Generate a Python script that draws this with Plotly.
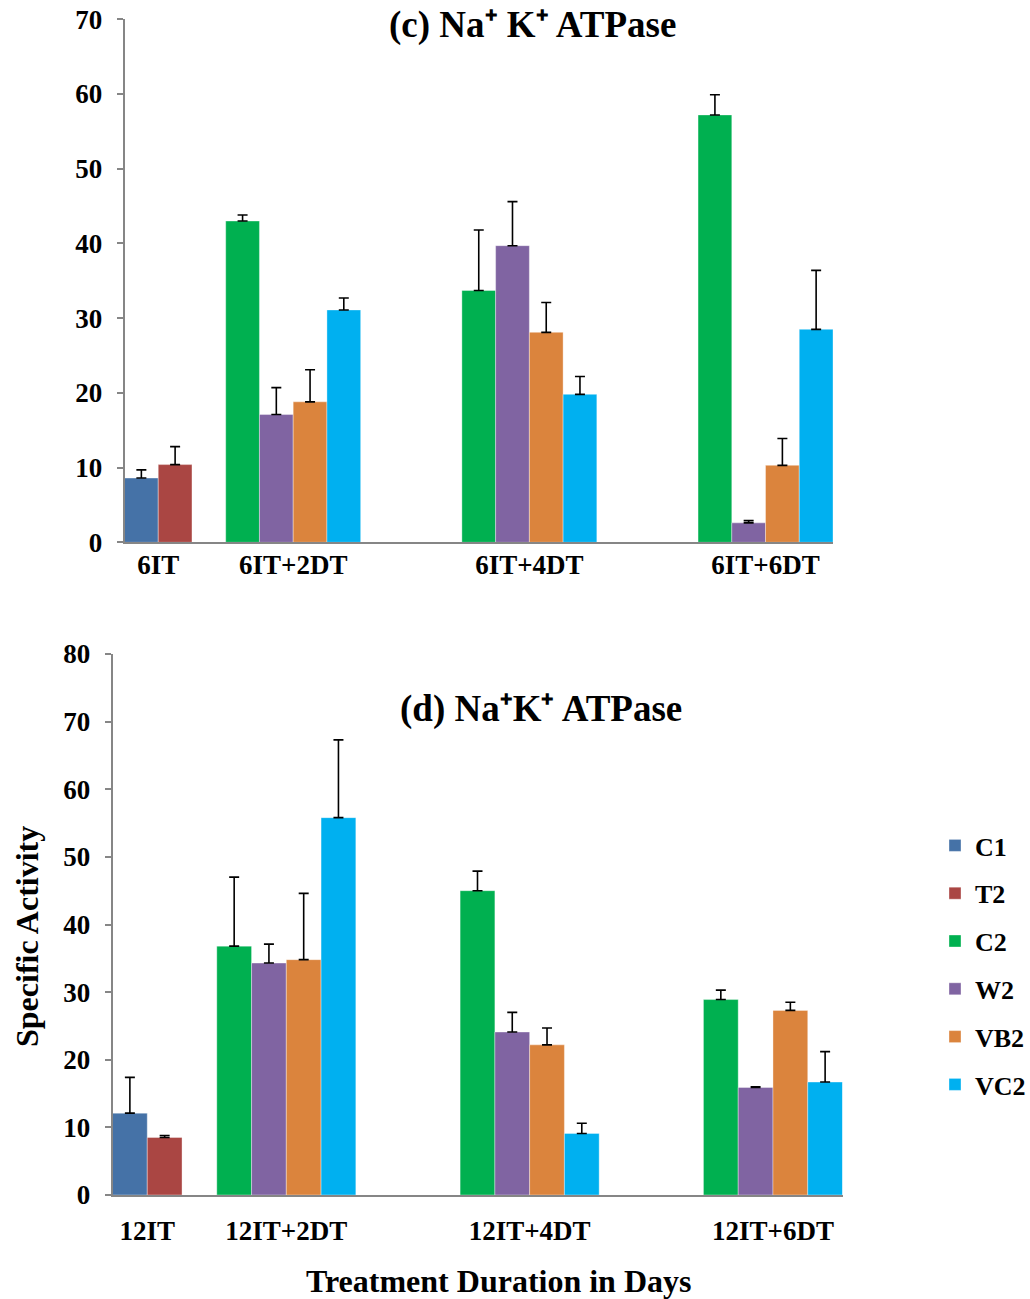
import plotly.graph_objects as go

# Series and their fill colours
SERIES = ["C1", "T2", "C2", "W2", "VB2", "VC2"]
COLORS = ["#4572A7", "#AA4643", "#00B050", "#8064A2", "#DB843D", "#00B0F0"]

# Panel (c): 6 days of exposure followed by 2/4/6 days of treatment
CATS_C = ["6IT", "6IT+2DT", "6IT+4DT", "6IT+6DT"]
C_C1 = [8.6, None, None, None]
C_T2 = [10.4, None, None, None]
C_C2 = [None, 43.0, 33.7, 57.2]
C_W2 = [None, 17.1, 39.7, 2.6]
C_VB2 = [None, 18.8, 28.1, 10.3]
C_VC2 = [None, 31.1, 19.8, 28.5]
C_C1_ERR = [1.1, None, None, None]
C_T2_ERR = [2.4, None, None, None]
C_C2_ERR = [None, 0.8, 8.1, 2.7]
C_W2_ERR = [None, 3.6, 5.9, 0.3]
C_VB2_ERR = [None, 4.3, 4.0, 3.6]
C_VC2_ERR = [None, 1.6, 2.4, 7.9]

# Panel (d): 12 days of exposure followed by 2/4/6 days of treatment
CATS_D = ["12IT", "12IT+2DT", "12IT+4DT", "12IT+6DT"]
D_C1 = [12.1, None, None, None]
D_T2 = [8.5, None, None, None]
D_C2 = [None, 36.8, 45.0, 28.9]
D_W2 = [None, 34.3, 24.1, 15.9]
D_VB2 = [None, 34.8, 22.2, 27.3]
D_VC2 = [None, 55.8, 9.1, 16.7]
D_C1_ERR = [5.3, None, None, None]
D_T2_ERR = [0.3, None, None, None]
D_C2_ERR = [None, 10.2, 2.9, 1.4]
D_W2_ERR = [None, 2.8, 2.9, 0.1]
D_VB2_ERR = [None, 9.8, 2.5, 1.2]
D_VC2_ERR = [None, 11.5, 1.5, 4.5]

C_MEANS = [C_C1, C_T2, C_C2, C_W2, C_VB2, C_VC2]
C_ERRS = [C_C1_ERR, C_T2_ERR, C_C2_ERR, C_W2_ERR, C_VB2_ERR, C_VC2_ERR]
D_MEANS = [D_C1, D_T2, D_C2, D_W2, D_VB2, D_VC2]
D_ERRS = [D_C1_ERR, D_T2_ERR, D_C2_ERR, D_W2_ERR, D_VB2_ERR, D_VC2_ERR]

# Empty bar-widths left in front of each category group
GROUP_GAPS = [0, 1, 3, 3]

FONT = "Liberation Serif"
AXIS_GREY = "#868686"
W, H = 1030, 1299


def layout_slots(means):
    """Place the measured bars of each category side by side, one unit wide."""
    xs = [[] for _ in means]
    centers = []
    cursor = 0
    for ci in range(len(means[0])):
        cursor += GROUP_GAPS[ci]
        first = cursor
        for si, vals in enumerate(means):
            if vals[ci] is not None:
                xs[si].append((ci, cursor))
                cursor += 1
        centers.append((first + cursor - 1) / 2)
    return xs, centers, cursor


fig = go.Figure()


def add_panel(means, errs, xref, yref, show_legend):
    xs, centers, nslots = layout_slots(means)
    for si, name in enumerate(SERIES):
        pts = xs[si]
        if not pts:
            continue
        fig.add_trace(go.Bar(
            name=name,
            legendgroup=name,
            showlegend=show_legend,
            x=[p for _, p in pts],
            y=[means[si][ci] for ci, _ in pts],
            width=1.0,
            marker=dict(color=COLORS[si],
                        line=dict(color="rgba(255,255,255,0.45)", width=0.8)),
            error_y=dict(type="data", symmetric=False,
                         array=[errs[si][ci] for ci, _ in pts],
                         arrayminus=[0] * len(pts),
                         color="black", thickness=1.6, width=5),
            xaxis=xref, yaxis=yref,
        ))
    return centers, nslots


centers_c, n_c = add_panel(C_MEANS, C_ERRS, "x", "y", True)
centers_d, n_d = add_panel(D_MEANS, D_ERRS, "x2", "y2", False)

tick_font = dict(family=FONT, size=27, color="black", weight="bold")


def yax(domain, top, anchor):
    return dict(domain=domain, range=[0, top], dtick=10, showgrid=False,
                anchor=anchor, automargin=False,
                zeroline=False, showline=True, linecolor=AXIS_GREY, linewidth=1.6,
                ticks="outside", ticklen=6, tickcolor=AXIS_GREY, tickwidth=1.6,
                tickfont=tick_font, ticklabelstandoff=9, fixedrange=True)


def xax(domain, centers, cats, nslots, anchor, standoff):
    return dict(domain=domain, range=[-0.5, nslots - 0.5], anchor=anchor,
                automargin=False, showgrid=False, zeroline=False, showline=True,
                linecolor=AXIS_GREY, linewidth=1.6, ticks="",
                tickvals=centers, ticktext=cats, tickfont=tick_font,
                ticklabelstandoff=standoff, fixedrange=True)


fig.update_layout(
    width=W, height=H,
    margin=dict(l=0, r=0, t=0, b=0, autoexpand=False),
    paper_bgcolor="white", plot_bgcolor="white",
    barmode="overlay",
    xaxis=xax([124.5 / W, 833 / W], centers_c, CATS_C, n_c, "y", -3),
    yaxis=yax([1 - 542.3 / H, 1 - 19.3 / H], 70, "x"),
    xaxis2=xax([112.5 / W, 842.5 / W], centers_d, CATS_D, n_d, "y2", 11),
    yaxis2=yax([1 - 1195 / H, 1 - 654 / H], 80, "x2"),
    showlegend=True,
    legend=dict(x=935 / W, y=1 - 822 / H, xanchor="left", yanchor="top",
                font=dict(family=FONT, size=26, color="black", weight="bold"),
                tracegroupgap=11, traceorder="grouped", bgcolor="rgba(0,0,0,0)"),
)

title_font = dict(family=FONT, size=37, color="black", weight="bold")
axis_title_font = dict(family=FONT, size=32, color="black", weight="bold")

fig.add_annotation(text="(c) Na\u207a K\u207a ATPase",
                   x=532 / W, y=1 - 25 / H, xref="paper", yref="paper",
                   showarrow=False, font=title_font, xanchor="center", yanchor="middle")
fig.add_annotation(text="(d) Na\u207aK\u207a ATPase",
                   x=541 / W, y=1 - 709 / H, xref="paper", yref="paper",
                   showarrow=False, font=title_font, xanchor="center", yanchor="middle")
fig.add_annotation(text="Specific Activity", textangle=-90,
                   x=27 / W, y=1 - 937 / H, xref="paper", yref="paper",
                   showarrow=False, font=axis_title_font, xanchor="center", yanchor="middle")
fig.add_annotation(text="Treatment Duration in Days",
                   x=498 / W, y=1 - 1281 / H, xref="paper", yref="paper",
                   showarrow=False, font=axis_title_font, xanchor="center", yanchor="middle")

fig.write_html("out.html")
